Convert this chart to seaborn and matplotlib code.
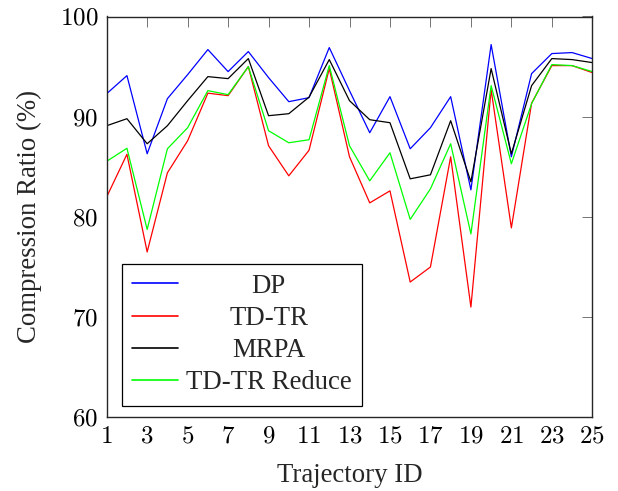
import matplotlib
matplotlib.use("Agg")
import matplotlib.pyplot as plt
import matplotlib.ticker as mticker
import numpy as np
import pandas as pd
import seaborn as sns

# Compression ratio (%) per trajectory for each simplification method
traj_ids = list(range(1, 26))
dp = [92.3, 94.1, 86.3, 91.8, 94.2, 96.7, 94.5, 96.5, 93.9, 91.5, 91.9, 96.9, 92.6,
      88.4, 92.0, 86.8, 88.9, 92.0, 82.7, 97.2, 86.0, 94.3, 96.3, 96.4, 95.8]
td_tr = [82.0, 86.25, 76.5, 84.4, 87.6, 92.35, 92.1, 95.0, 87.1, 84.1, 86.65, 94.8, 86.0,
         81.4, 82.6, 73.5, 75.0, 86.0, 71.0, 92.7, 78.9, 91.35, 95.1, 95.1, 94.4]
mrpa = [89.1, 89.8, 87.3, 89.1, 91.6, 94.0, 93.8, 95.8, 90.1, 90.3, 91.95, 95.7, 91.6,
        89.7, 89.4, 83.8, 84.2, 89.6, 83.5, 94.8, 86.3, 93.1, 95.8, 95.7, 95.4]
td_tr_reduce = [85.55, 86.85, 78.75, 86.8, 88.9, 92.6, 92.2, 95.0, 88.6, 87.4, 87.7, 95.1, 87.1,
                83.6, 86.4, 79.75, 82.8, 87.3, 78.3, 93.1, 85.3, 91.3, 95.2, 95.1, 94.5]

methods = ["DP", "TD-TR", "MRPA", "TD-TR Reduce"]
colors = ["#0000ff", "#ff0000", "#000000", "#00ff00"]
x_ticks = list(range(1, 26, 2))
y_ticks = [60, 70, 80, 90, 100]

df = pd.DataFrame({
    "Trajectory ID": traj_ids * 4,
    "Ratio": dp + td_tr + mrpa + td_tr_reduce,
    "Method": sum([[m] * len(traj_ids) for m in methods], []),
})

sns.set_theme(style="white")
plt.rcParams["font.family"] = ["Liberation Serif", "DejaVu Serif"]
plt.rcParams["mathtext.fontset"] = "cm"

fig = plt.figure(figsize=(6.18, 4.91), dpi=100)
ax = fig.add_axes([106.7 / 618, 1 - 417.3 / 491, (592.3 - 106.7) / 618, (417.3 - 16.5) / 491])

sns.lineplot(data=df, x="Trajectory ID", y="Ratio", hue="Method", hue_order=methods,
             palette=colors, linewidth=0.9, ax=ax, legend=True)

ax.set_xlim(1, 25)
ax.set_ylim(60, 100)
ax.set_xticks(x_ticks)
ax.set_yticks(y_ticks)
ax.xaxis.set_major_formatter(mticker.FuncFormatter(lambda v, p: f"${int(v)}$"))
ax.yaxis.set_major_formatter(mticker.FuncFormatter(lambda v, p: f"${int(v)}$"))
ax.tick_params(axis="both", which="major", direction="in", length=7, width=0.7,
               color="0.45", labelsize=18, top=True, right=True,
               labelcolor="black")
ax.tick_params(axis="x", pad=6)
ax.tick_params(axis="y", pad=6)
for s in ax.spines.values():
    s.set_visible(True)
    s.set_color("0.15")
    s.set_linewidth(1.0)

ax.set_xlabel("Trajectory ID", fontsize=19.3, labelpad=11)
ax.set_ylabel("Compression Ratio (%)", fontsize=19.3, labelpad=13)

leg = ax.legend(loc="lower left", bbox_to_anchor=(0.0315, 0.029), borderaxespad=0,
                fontsize=19.3, frameon=True, fancybox=False, framealpha=1,
                edgecolor="black", handlelength=1.7, handletextpad=0.3,
                borderpad=0.38, labelspacing=0.27)
leg.get_frame().set_linewidth(0.9)
for h in leg.get_lines():
    h.set_linewidth(1.2)

# Center the legend labels within the text column
fig.canvas.draw()
renderer = fig.canvas.get_renderer()
texts = leg.get_texts()
widths = [t.get_window_extent(renderer).width for t in texts]
wmax = max(widths)
for t, w in zip(texts, widths):
    t.set_position(((wmax - w) / 2, 0))

fig.savefig("out.png", dpi=100)
